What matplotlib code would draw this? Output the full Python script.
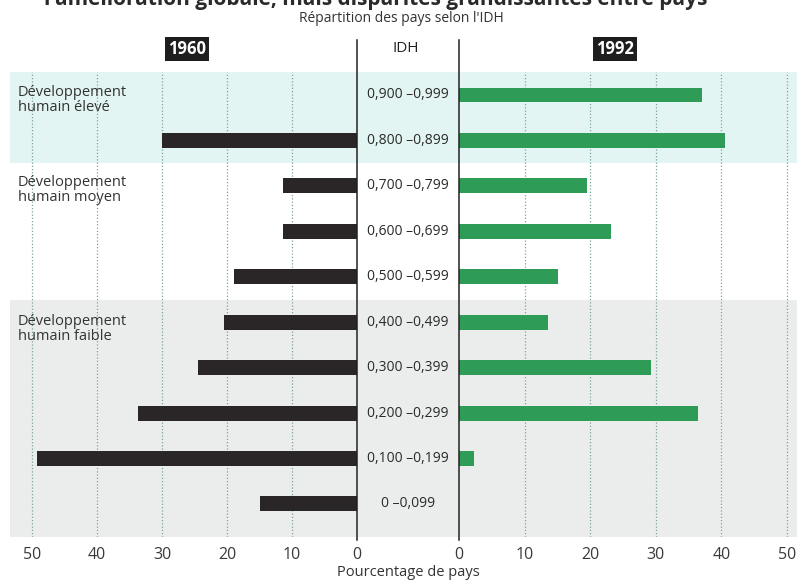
import matplotlib.pyplot as plt
from matplotlib.lines import Line2D

# IDH classes, top to bottom
idh_classes = ["0,900 –0,999", "0,800 –0,899", "0,700 –0,799", "0,600 –0,699",
               "0,500 –0,599", "0,400 –0,499", "0,300 –0,399", "0,200 –0,299",
               "0,100 –0,199", "0 –0,099"]
# % of countries per class
pct_1960 = [0, 30, 11.4, 11.4, 18.9, 20.5, 24.5, 33.7, 49.2, 15]
pct_1992 = [37, 40.6, 19.5, 23.2, 15.1, 13.6, 29.2, 36.5, 2.3, 0]
ticks = [0, 10, 20, 30, 40, 50]
groups = ["Développement\nhumain élevé", "Développement\nhumain moyen",
          "Développement\nhumain faible"]
group_rows = [0.1, 2.1, 5.15]

W, H = 797, 582
plt.rcParams['font.family'] = ['Open Sans', 'DejaVu Sans']
fig = plt.figure(figsize=(W / 100, H / 100), dpi=100)
fig.patch.set_facecolor("white")


def fx(px):
    return px / W


def fy(py):
    return 1 - py / H


def box(x0, x1, y0, y1):
    return [fx(x0), fy(y1), fx(x1) - fx(x0), fy(y0) - fy(y1)]


top_px, bot_px = 72, 537
row0, step = 95, 45.44
ylim = ((bot_px - row0) / step, (top_px - row0) / step)

# background bands
ax_bg = fig.add_axes(box(10, 797, top_px, bot_px))
ax_bg.set_xlim(0, 1)
ax_bg.set_ylim(*ylim)
ax_bg.axhspan(ylim[1], 1.5, color="#e2f5f3", lw=0)
ax_bg.axhspan(4.52, ylim[0], color="#eaedeb", lw=0)
ax_bg.axis("off")

dark = "#2a2527"
green = "#2e9b56"
grid_kw = dict(color="#7fa39d", lw=0.9, linestyle=(0, (1, 1.6)))

ax_l = fig.add_axes(box(10, 357, top_px, bot_px))
ax_r = fig.add_axes(box(459, 797, top_px, bot_px))
ax_l.set_xlim(50 + 22 / 6.5, 0)
ax_r.set_xlim(0, 50 + 10 / 6.56)

rows = list(range(len(idh_classes)))
ax_l.barh(rows, pct_1960, height=0.33, color=dark, zorder=3)
ax_r.barh(rows, pct_1992, height=0.33, color=green, zorder=3)

for ax in (ax_l, ax_r):
    ax.set_facecolor("none")
    ax.set_ylim(*ylim)
    ax.set_xticks(ticks)
    ax.set_xticklabels([str(t) for t in ticks])
    ax.set_yticks([])
    ax.tick_params(axis="x", length=0, pad=7, labelsize=11.5, labelcolor="#3a3a3a")
    for t in ticks:
        if t > 0:
            ax.axvline(t, zorder=1, **grid_kw)
    for s in ax.spines.values():
        s.set_visible(False)

# center axis lines
for xp in (357, 459):
    fig.add_artist(Line2D([fx(xp), fx(xp)], [fy(40), fy(540)], color="#222222", lw=1.1))

# IDH class labels
for i, lab in enumerate(idh_classes):
    fig.text(fx(408), fy(row0 + step * i), lab, ha="center", va="center",
             fontsize=10, color="#2a2a2a")

for lab, r in zip(groups, group_rows):
    fig.text(fx(18), fy(row0 + step * r), lab, ha="left", va="center",
             fontsize=10.5, color="#333333", linespacing=1.0)

# headers
fig.text(fx(187), fy(49), "1960", ha="center", va="center", fontsize=12,
         fontweight="bold", color="white",
         bbox=dict(boxstyle="square,pad=0.2", fc="#1e1e1e", ec="none"))
fig.text(fx(615), fy(49), "1992", ha="center", va="center", fontsize=12,
         fontweight="bold", color="white",
         bbox=dict(boxstyle="square,pad=0.2", fc="#1e1e1e", ec="none"))
fig.text(fx(406), fy(48), "IDH", ha="center", va="center", fontsize=11, color="#222222")
fig.text(fx(401), fy(18), "Répartition des pays selon l'IDH", ha="center",
         va="center", fontsize=10, color="#333333")
# title is cropped at the top edge in the source page
fig.text(fx(707), fy(5), "l'amélioration globale, mais disparités grandissantes entre pays",
         ha="right", va="baseline", fontsize=15, fontweight="bold", color="#2a2a2a")
fig.text(fx(408), fy(572), "Pourcentage de pays", ha="center", va="center",
         fontsize=10.5, color="#333333")

fig.savefig("out.png", dpi=100)
